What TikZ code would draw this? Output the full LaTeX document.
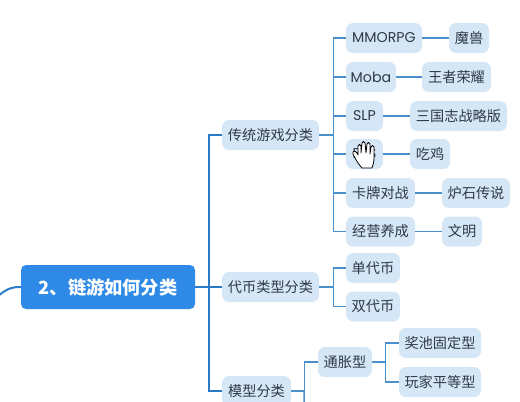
\documentclass[tikz,border=0pt]{standalone}
\usepackage{fontspec}
\setmainfont{Poppins}
\newfontfamily\cjk{Noto Sans CJK SC}
\definecolor{rootblue}{HTML}{2E8AE6}
\definecolor{leafblue}{HTML}{D5E6F7}
\definecolor{trunkblue}{HTML}{2A7CC9}
\definecolor{linkblue}{HTML}{4A90CF}
\definecolor{inkgray}{HTML}{2F3A45}

\begin{document}
\begin{tikzpicture}[
  x=1pt, y=-1pt,
  every node/.style={font=\cjk\fontsize{14.2}{16}\selectfont, text=inkgray, align=center},
  root/.style={fill=rootblue, rounded corners=5pt, inner sep=0pt, minimum width=174pt, minimum height=44pt,
    text=white, font=\cjk\bfseries\fontsize{18.2}{20}\selectfont},
  leaf/.style={fill=leafblue, rounded corners=7pt, inner sep=0pt, minimum height=30pt},
  latin/.style={font=\rmfamily\fontsize{14.2}{16}\selectfont},
  trunk/.style={draw=trunkblue, line width=2pt},
  link/.style={draw=linkblue, line width=1.4pt}
]
\useasboundingbox (0,0) rectangle (520,402);
\clip (0,0) rectangle (520,402);

\node[root] (root) at (108,287) {2、链游如何分类};
\coordinate (rootin) at (-2,296);
\coordinate (modeldown) at (304,410);

% first level
\node[leaf, minimum width=97pt] (trad) at (270.5,135) {传统游戏分类};
\node[leaf, minimum width=97pt] (coin) at (270.5,287) {代币类型分类};
\node[leaf, minimum width=69pt] (model) at (256.5,391) {模型分类};

% games
\node[leaf, latin, minimum width=76pt] (mmo) at (384,38) {MMORPG};
\node[leaf, minimum width=40pt] (wow) at (469,38) {魔兽};
\node[leaf, latin, minimum width=50pt] (moba) at (371,77) {Moba};
\node[leaf, minimum width=69pt] (king) at (456.5,77) {王者荣耀};
\node[leaf, latin, minimum width=37pt] (slp) at (364.5,116) {SLP};
\node[leaf, minimum width=97pt] (sanguo) at (458.5,116) {三国志战略版};
\node[leaf, latin, minimum width=37pt] (fps) at (364.5,154) {FPS};
\node[leaf, minimum width=40pt] (pubg) at (430,154) {吃鸡};
\node[leaf, minimum width=69pt] (card) at (380.5,193) {卡牌对战};
\node[leaf, minimum width=68pt] (stone) at (476,193) {炉石传说};
\node[leaf, minimum width=69pt] (sim) at (380.5,231.5) {经营养成};
\node[leaf, minimum width=40pt] (civ) at (462,231.5) {文明};

% coins
\node[leaf, minimum width=54pt] (single) at (373,268) {单代币};
\node[leaf, minimum width=54pt] (double) at (373,306.5) {双代币};

% model
\node[leaf, minimum width=54pt] (infl) at (345,362) {通胀型};
\node[leaf, minimum width=82pt] (pool) at (440,343) {奖池固定型};
\node[leaf, minimum width=82pt] (equal) at (440,382) {玩家平等型};

% connectors
\draw[trunk] (rootin) .. controls (8,288) and (12,287) .. (root.west);
\draw[trunk] (trad.west) -| (209,287);
\draw[trunk] (model.west) -| (209,287);
\draw[trunk] (root.east) -- (coin.west);

\foreach \kid in {mmo,moba,slp,fps,card,sim}
  \draw[link] (trad.east) -- ++(14,0) |- (\kid.west);
\foreach \kid in {single,double}
  \draw[link] (coin.east) -- ++(14,0) |- (\kid.west);
\foreach \kid in {pool,equal}
  \draw[link] (infl.east) -- ++(13,0) |- (\kid.west);
\draw[link] (model.east) -- ++(13,0) |- (infl.west);
\draw[link] (model.east) -- ++(13,0) -- (modeldown);

\draw[link] (mmo) -- (wow);
\draw[link] (moba) -- (king);
\draw[link] (slp) -- (sanguo);
\draw[link] (fps) -- (pubg);
\draw[link] (card) -- (stone);
\draw[link] (sim) -- (civ);

% hand cursor
\draw[fill=white, line width=0.8pt, line join=round]
  (362,168) .. controls (358,164) and (355,158) .. (353,154)
  .. controls (352,151) and (355,150) .. (357,153) -- (358,155)
  -- (358,146) .. controls (358,144) and (361,144) .. (361,146) -- (361,153)
  -- (362,143) .. controls (362,141) and (365,141) .. (365,143) -- (366,153)
  -- (367,144) .. controls (367,142) and (370,142) .. (370,144) -- (370,154)
  -- (371,147) .. controls (371,145) and (374,145) .. (374,147) -- (374,158)
  .. controls (374,162) and (373,165) .. (372,168) -- cycle;
\end{tikzpicture}
\end{document}
